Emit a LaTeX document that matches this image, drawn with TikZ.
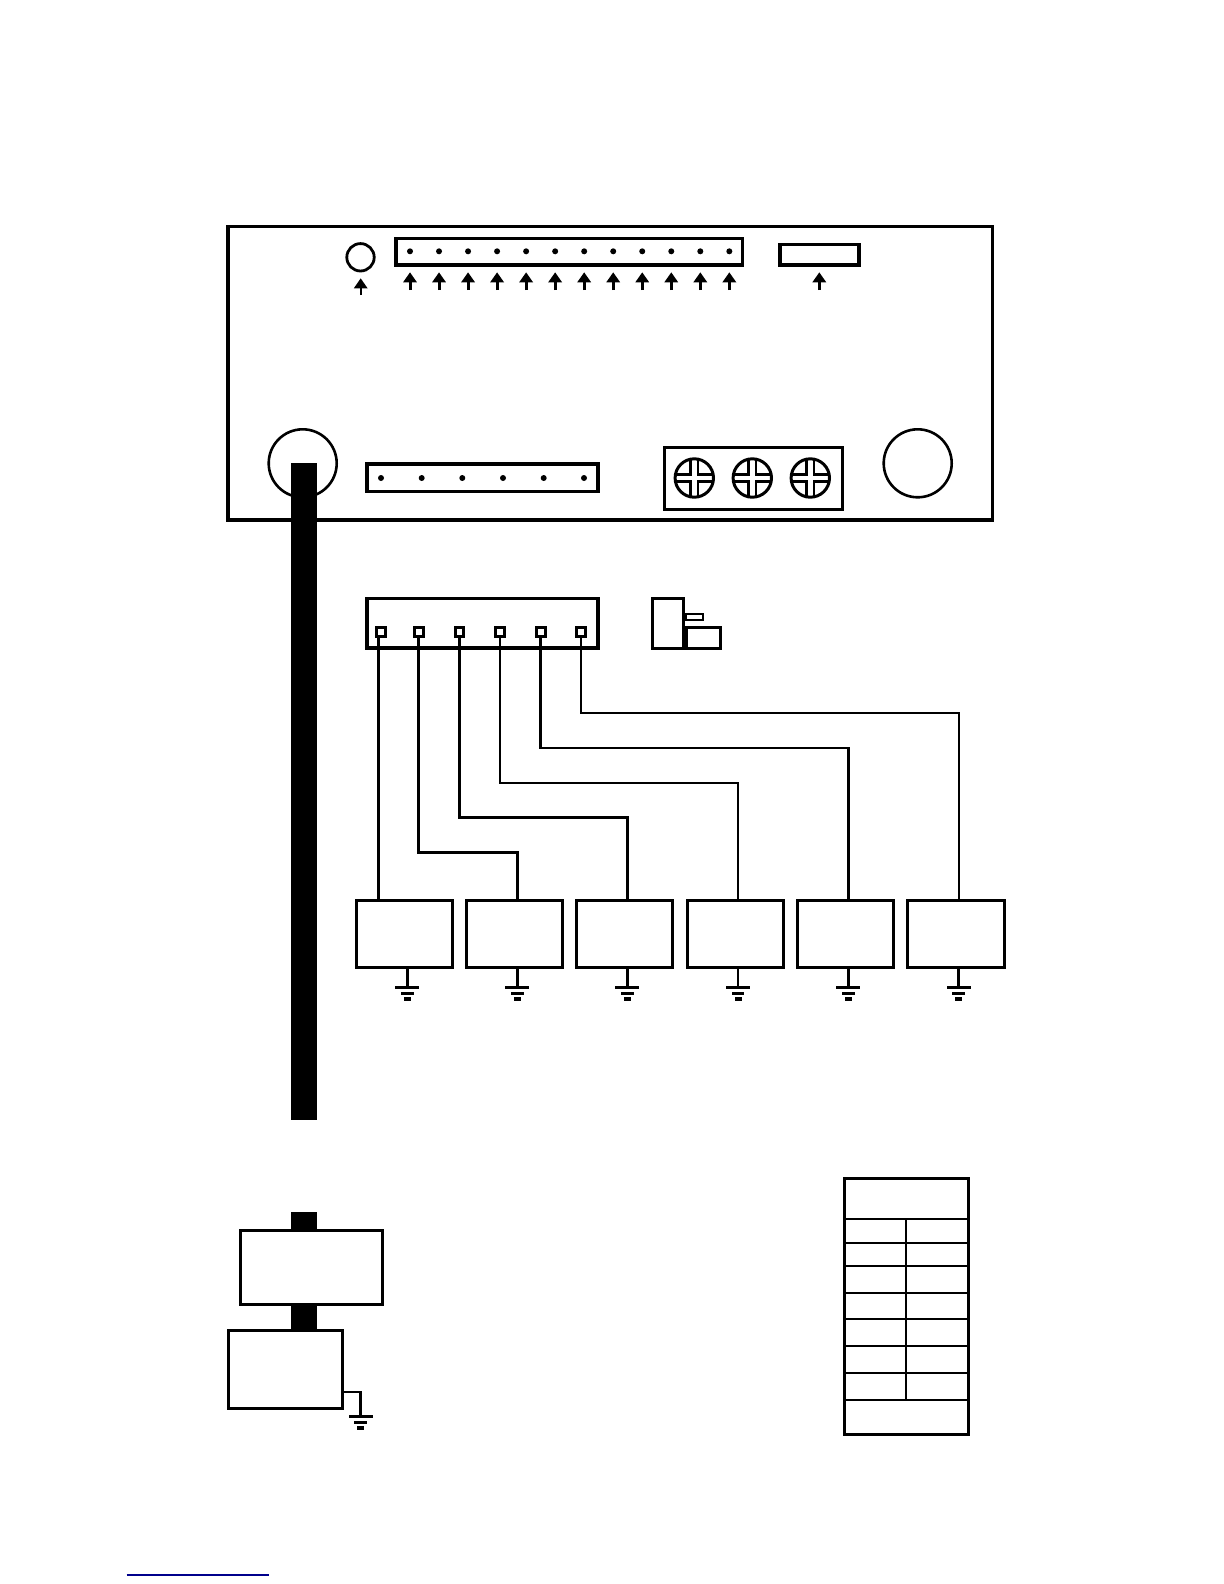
\documentclass[tikz,border=0pt]{standalone}
\usetikzlibrary{arrows.meta,calc}
\definecolor{linkblue}{RGB}{0,0,140}
\newcommand{\pxbox}[6]{%
  \node[pxrect,#6,minimum width={(#4-#2)*0.5bp},minimum height={(#5-#3)*0.5bp}] (#1) at ({(#2+#4)/2},{(#3+#5)/2}) {};}
\newcommand{\pxring}[5]{%
  \node[pxring,line width=#5*0.5bp,minimum size={2*#4*0.5bp}] (#1) at (#2,#3) {};}
\newcommand{\earth}[2]{%
  \fill ($(#1)+(-12,-1.5)$) rectangle ($(#1)+(12,1.5)$);
  \fill ($(#1)+(-6.3,4.6)$) rectangle ($(#1)+(6.3,7.4)$);
  \fill ($(#1)+(-3.5,#2-2)$) rectangle ($(#1)+(3.5,#2+2)$);}
\newcommand{\screw}[2]{%
  \pxring{#1}{#2}{478}{19.2}{3}
  \foreach \sx in {-1,1} \foreach \sy in {-1,1}
    \draw[line width=1.35bp,line join=miter]
      ([shift={(\sx*3.6,\sy*18.8)}]#1.center) -- ([shift={(\sx*3.6,\sy*3.2)}]#1.center) -- ([shift={(\sx*18.8,\sy*3.2)}]#1.center);}
\tikzset{
  pxrect/.style={draw=black,fill=white,rectangle,inner sep=0pt,outer sep=0pt,line width=1.5bp},
  pxring/.style={draw=black,circle,inner sep=0pt,outer sep=0pt},
  thinrule/.style={line width=0.85bp,draw=black},
  wirea/.style={line width=1.35bp,draw=black,line join=miter},
  wireb/.style={line width=1.05bp,draw=black,line join=miter},
  callout/.style={draw=black,line width=1.5bp,-{Triangle[length=5bp,width=6.6bp]}},
  calloutb/.style={draw=black,line width=1.05bp,-{Triangle[length=5bp,width=6.6bp]}},
  dotmark/.style={fill=black},
  bar/.style={fill=black}
}
\begin{document}
\begin{tikzpicture}[x=0.5bp,y=-0.5bp]
\useasboundingbox (0,0) rectangle (1224,1584);
\fill[white] (0,0) rectangle (1224,1584);

% --- controller board ---
\pxbox{board}{228}{226.5}{992.5}{520}{line width=1.55bp}
\pxring{led}{360.5}{257.3}{13.7}{2.8}
\pxbox{topconn}{396}{238.3}{742.7}{265}{line width=1.6bp}
\pxbox{topslot}{780}{244.3}{859}{265}{line width=1.6bp}
\foreach \i in {0,...,11}{
  \pgfmathsetmacro{\xx}{410+29.03*\i}
  \fill[dotmark] (\xx,251.3) circle[radius=3];
  \coordinate (tip\i) at (\xx,272.3);
  \coordinate (tail\i) at (\xx,290);
  \draw[callout] (tail\i) -- (tip\i);
}
\coordinate (ledtip) at (360.7,278.3);
\coordinate (ledtail) at (360.7,295);
\draw[calloutb] (ledtail) -- (ledtip);
\coordinate (slottip) at (819.3,272.3);
\coordinate (slottail) at (819.3,290);
\draw[callout] (slottail) -- (slottip);

\pxring{holeL}{302.7}{463.3}{34}{2.6}
\pxring{holeR}{917.7}{463.3}{34}{2.6}
\pxbox{lowconn}{367}{464}{598}{491.7}{line width=1.6bp}
\foreach \xx in {381,421.7,462.3,503,543.7,584}
  \fill[dotmark] (\xx,478) circle[radius=3];
\pxbox{termblock}{664}{447}{842}{509}{}
\screw{scrA}{694.3}
\screw{scrB}{752.3}
\screw{scrC}{810.3}

% --- thick cable ---
\fill[bar] (291,463) rectangle (317,1120);
\fill[bar] (291,1212) rectangle (317,1332);

% --- connector with pins ---
\pxbox{plug}{367}{598.3}{598}{648}{line width=1.6bp}
\pxbox{sideA}{652}{598.3}{683.5}{648}{}
\pxbox{sideB}{686}{627}{720}{648}{}
\pxbox{sideC}{686}{614.3}{703.3}{620}{line width=1.1bp}

% --- sensors ---
\pxbox{sen1}{356}{900}{452.7}{967.5}{}
\pxbox{sen2}{466}{900}{562.7}{967.5}{}
\pxbox{sen3}{576}{900}{672.7}{967.5}{}
\pxbox{sen4}{687}{900}{783.7}{967.5}{}
\pxbox{sen5}{797}{900}{893.7}{967.5}{}
\pxbox{sen6}{907}{900}{1004}{967.5}{}

% --- wires ---
\foreach \n/\wx/\ty in {1/378.3/900,2/418.7/852.7,3/459.3/817.5,4/500/783,5/540.7/748,6/581/713}{
  \coordinate (out\n) at (\wx,636);
  \coordinate (lvl\n) at (\wx,\ty);
}
\coordinate (tap1) at (378.3,900);
\coordinate (tap2) at (517.3,900);
\coordinate (tap3) at (627.3,900);
\coordinate (tap4) at (738,900);
\coordinate (tap5) at (848.3,900);
\coordinate (tap6) at (958.7,900);
\draw[wirea] (out1) -- (tap1);
\draw[wirea] (out2) -- (lvl2) -| (tap2);
\draw[wirea] (out3) -- (lvl3) -| (tap3);
\draw[wireb] (out4) -- (lvl4) -| (tap4);
\draw[wirea] (out5) -- (lvl5) -| (tap5);
\draw[wireb] (out6) -- (lvl6) -| (tap6);

% --- pins ---
\pxbox{pin1}{376.8}{627.5}{385.2}{636}{line width=1.5bp}
\pxbox{pin2}{414.8}{627.5}{423.2}{636}{line width=1.5bp}
\pxbox{pin3}{455.5}{627.5}{463.9}{636}{line width=1.5bp}
\pxbox{pin4}{495.8}{627.5}{504.2}{636}{line width=1.5bp}
\pxbox{pin5}{536.8}{627.5}{545.2}{636}{line width=1.5bp}
\pxbox{pin6}{576.8}{627.5}{585.2}{636}{line width=1.5bp}

% --- sensor grounds ---
\foreach \n/\gx in {1/407.3,2/517.3,3/627.3,4/738,5/848.3,6/958.7}{
  \coordinate (gtop\n) at (\gx,967.5);
  \coordinate (gnd\n) at (\gx,987.3);
  \draw[wirea] (gtop\n) -- (gnd\n);
  \earth{gnd\n}{11.5}
}

% --- lower left units ---
\pxbox{unitA}{240}{1230.7}{382.7}{1304.7}{}
\pxbox{unitB}{228.5}{1330}{342}{1408.7}{}
\coordinate (unitout) at (342,1392);
\coordinate (gndU) at (360.7,1416.3);
\draw[wirea] (unitout) -| (gndU);
\earth{gndU}{12}

% --- table ---
\pxbox{legend}{844}{1178.7}{968.7}{1434}{}
\foreach \ry in {1219.3,1243.3,1266.3,1293.3,1319.3,1346.3,1373.3,1400.3}
  \draw[thinrule] (844,\ry) -- (968.7,\ry);
\draw[thinrule] (906.3,1219.3) -- (906.3,1400.3);

% --- footer rule ---
\draw[linkblue,line width=0.7bp] (126.7,1575) -- (269,1575);
\end{tikzpicture}
\end{document}
